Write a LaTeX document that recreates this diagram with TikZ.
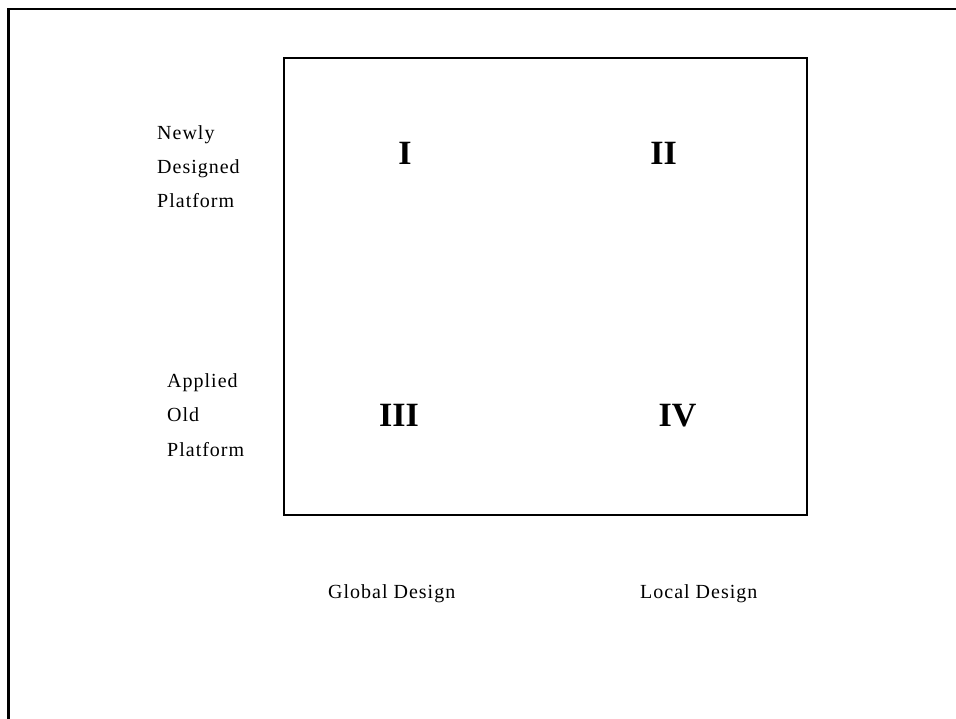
\documentclass[tikz,border=0pt]{standalone}
\usepackage{fontspec}
\setmainfont{Liberation Serif}
\newfontfamily\spacedserif[LetterSpace=5]{Liberation Serif}
\begin{document}
\begin{tikzpicture}[x=1pt,y=-1pt,
  axislabel/.style={anchor=base west,inner sep=0pt,font=\spacedserif\fontsize{20}{20}\selectfont},
  quadrant/.style={anchor=base,inner sep=0pt,font=\bfseries\fontsize{34}{34}\selectfont},
  frameline/.style={line width=2.6pt,line cap=rect},
  gridbox/.style={line width=1.4pt}]
  \useasboundingbox (0,0) rectangle (956,719);
  % outer page frame (top and left edges only)
  \draw[frameline] (8.5,719) -- (8.5,9) -- (956,9);
  % quadrant box
  \draw[gridbox] (284,58) rectangle (807,515);
  % quadrant numerals
  \node[quadrant] (q1) at (405,164.5) {I};
  \node[quadrant] (q2) at (663.5,164.5) {II};
  \node[quadrant] (q3) at (399,426) {III};
  \node[quadrant] (q4) at (677.5,426) {IV};
  % row labels
  \node[axislabel] (n1) at (157,140) {Newly};
  \node[axislabel] (n2) at (157,174) {Designed};
  \node[axislabel] (n3) at (157,208) {Platform};
  \node[axislabel] (a1) at (167,387) {Applied};
  \node[axislabel] (a2) at (167,421) {Old};
  \node[axislabel] (a3) at (167,456) {Platform};
  % column labels
  \node[axislabel] (g) at (328,598) {Global Design};
  \node[axislabel] (l) at (640,598) {Local Design};
\end{tikzpicture}
\end{document}
